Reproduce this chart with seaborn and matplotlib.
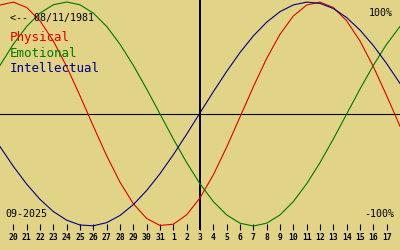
import matplotlib
matplotlib.use("Agg")
import matplotlib.pyplot as plt
import seaborn as sns
import pandas as pd
import numpy as np

# ---- data ----
day_labels = ["20", "21", "22", "23", "24", "25", "26", "27", "28", "29", "30", "31",
              "1", "2", "3", "4", "5", "6", "7", "8", "9", "10", "11", "12", "13",
              "14", "15", "16", "17"]
today_label = "3"
birth_text = "<-- 08/11/1981"
month_text = "09-2025"
series_names = ["Physical", "Emotional", "Intellectual"]

# values for one day before the first label through one day after the last label
physical = [0.973, 0.999, 0.951, 0.832, 0.652, 0.423, 0.163, -0.109, -0.373, -0.609,
            -0.801, -0.933, -0.995, -0.984, -0.900, -0.749, -0.543, -0.296, -0.027,
            0.243, 0.496, 0.712, 0.875, 0.973, 0.999, 0.951, 0.832, 0.652, 0.423,
            0.163, -0.109]
emotional = [0.434, 0.623, 0.782, 0.901, 0.975, 1.000, 0.975, 0.901, 0.782, 0.623,
             0.434, 0.223, 0.000, -0.223, -0.434, -0.623, -0.782, -0.901, -0.975,
             -1.000, -0.975, -0.901, -0.782, -0.623, -0.434, -0.223, 0.000, 0.223,
             0.434, 0.623, 0.782]
intellectual = [-0.291, -0.467, -0.626, -0.762, -0.871, -0.948, -0.991, -0.998, -0.970,
                -0.906, -0.809, -0.683, -0.533, -0.363, -0.180, 0.010, 0.199, 0.380,
                0.549, 0.697, 0.820, 0.914, 0.974, 0.999, 0.988, 0.942, 0.861, 0.749,
                0.611, 0.450, 0.273]

# ---- styling ----
BG = "#E1D487"
COLORS = {"Physical": "#E00000", "Emotional": "#007800", "Intellectual": "#000088"}
MONO = "DejaVu Sans Mono"

n = len(physical)
pos = np.arange(n) - 1  # first value sits one day before the first label
df = pd.DataFrame({
    "day": np.tile(pos, 3),
    "value": physical + emotional + intellectual,
    "series": np.repeat(series_names, n),
})

W, H = 400, 250
fig = plt.figure(figsize=(W / 100, H / 100), dpi=100)
fig.patch.set_facecolor(BG)
ax = fig.add_axes([0, 20 / H, 1, 230 / H])
ax.set_facecolor(BG)

sns.lineplot(data=df, x="day", y="value", hue="series", palette=COLORS,
             hue_order=series_names, ax=ax, legend=False, linewidth=0.8,
             estimator=None, sort=False)

ax.set_xlim(-1, len(day_labels))
ax.set_ylim(-1.0357, 1.0179)
for s in ax.spines.values():
    s.set_visible(False)

ax.axhline(0, color="black", linewidth=0.8, zorder=1)
ax.axvline(day_labels.index(today_label), color="black", linewidth=1.4, zorder=1)

ax.set_xticks(range(len(day_labels)))
ax.set_xticklabels(day_labels, fontsize=5.8, fontweight="bold", family=MONO)
ax.tick_params(axis="x", direction="in", length=4.3, width=0.8, pad=2.2,
               colors="black", bottom=True)
ax.set_yticks([])
ax.set_xlabel("")
ax.set_ylabel("")


def ptext(x, y, s, **kw):
    fig.text(x / W, 1 - y / H, s, va="baseline", family=MONO, **kw)


ptext(10, 20.7, birth_text, fontsize=7.2, color="black")
ptext(10, 41, series_names[0], fontsize=9, color=COLORS["Physical"])
ptext(10, 56.8, series_names[1], fontsize=9, color=COLORS["Emotional"])
ptext(10, 72.5, series_names[2], fontsize=9, color=COLORS["Intellectual"])
ptext(393, 16, "100%", fontsize=7.2, color="black", ha="right")
ptext(394, 216.7, "-100%", fontsize=7.2, color="black", ha="right")
ptext(5, 216.7, month_text, fontsize=7.2, color="black", ha="left")

fig.savefig("out.png", dpi=100, facecolor=BG)
